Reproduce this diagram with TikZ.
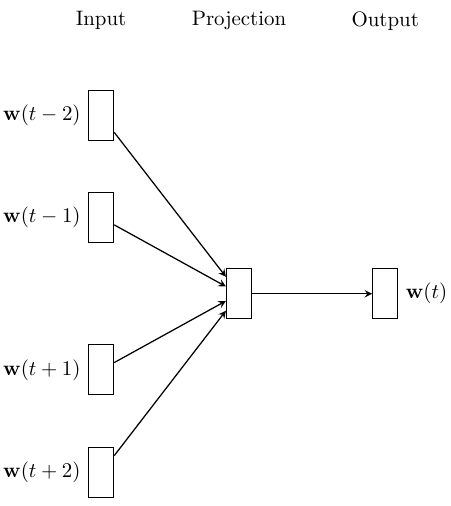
\documentclass[tikz,border=0pt]{standalone}
\begin{document}
\begin{tikzpicture}
    % 定义样式
    \tikzstyle{unit}=[draw, semithick, minimum width=0.42cm, minimum height=0.84cm, inner sep=0pt]
    \tikzstyle{link}=[semithick, ->, >=stealth]

    % 画布大小
    \useasboundingbox (0,0) rectangle (7.57,8.51);

    % 标题
    \node (title-in) at (1.70, 8.16) {Input};
    \node (title-proj) at (4.02, 8.16) {Projection};
    \node (title-out) at (6.48, 8.16) {Output};

    % 输入层
    \node[unit] (in-2) at (1.70, 6.57) {};
    \node[left] (lab-in-2) at (in-2.west) {$\mathbf{w}(t-2)$};
    \node[unit] (in-1) at (1.70, 4.85) {};
    \node[left] (lab-in-1) at (in-1.west) {$\mathbf{w}(t-1)$};
    \node[unit] (in+1) at (1.70, 2.29) {};
    \node[left] (lab-in+1) at (in+1.west) {$\mathbf{w}(t+1)$};
    \node[unit] (in+2) at (1.70, 0.56) {};
    \node[left] (lab-in+2) at (in+2.west) {$\mathbf{w}(t+2)$};

    % 投影层
    \node[unit] (proj) at (4.02, 3.57) {};

    % 输出层
    \node[unit] (out) at (6.48, 3.57) {};
    \node[right] (lab-out) at (out.east) {$\mathbf{w}(t)$};

    % 连线
    \draw[link] (in-2) -- (proj);
    \draw[link] (in-1) -- (proj);
    \draw[link] (in+1) -- (proj);
    \draw[link] (in+2) -- (proj);
    \draw[link] (proj) -- (out);
\end{tikzpicture}
\end{document}
